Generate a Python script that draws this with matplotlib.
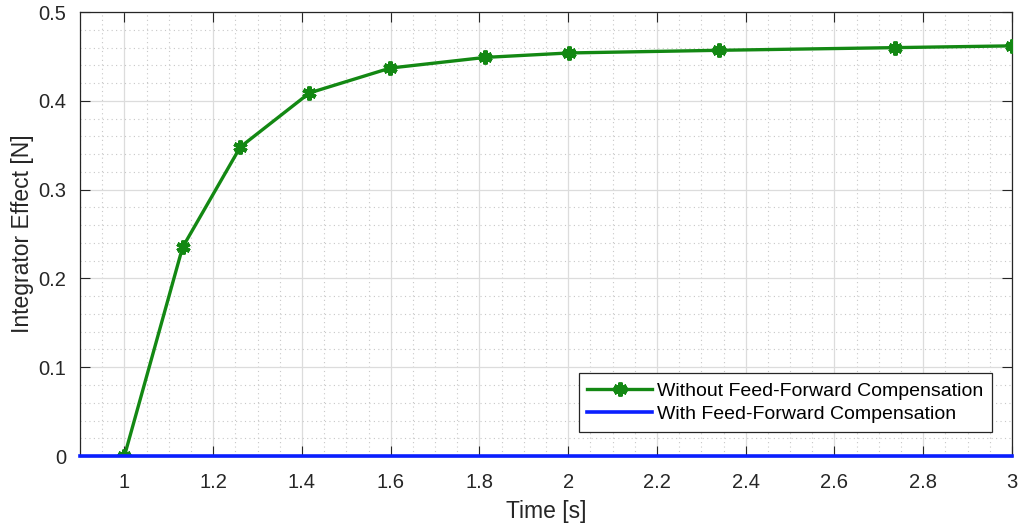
import matplotlib.pyplot as plt
from matplotlib.ticker import MultipleLocator

plt.rcParams['font.family'] = ['Liberation Sans', 'DejaVu Sans']

# Without feed-forward compensation
t_noff = [1.0, 1.131, 1.261, 1.417, 1.599, 1.813, 2.002, 2.340, 2.736, 3.0]
f_noff = [0.0, 0.235, 0.348, 0.409, 0.437, 0.449, 0.454, 0.457, 0.460, 0.462]

# With feed-forward compensation: stays at zero
t_ff = [0.9, 1.0, 1.5, 2.0, 2.5, 3.0]
f_ff = [0.0, 0.0, 0.0, 0.0, 0.0, 0.0]

xticks = [1, 1.2, 1.4, 1.6, 1.8, 2, 2.2, 2.4, 2.6, 2.8, 3]
xticklabels = ['1', '1.2', '1.4', '1.6', '1.8', '2', '2.2', '2.4', '2.6', '2.8', '3']
yticks = [0, 0.1, 0.2, 0.3, 0.4, 0.5]
yticklabels = ['0', '0.1', '0.2', '0.3', '0.4', '0.5']

fig = plt.figure(figsize=(10.21, 5.27), dpi=100)
ax = fig.add_axes([0.0784, 0.1347, 0.9128, 0.8423])

ax.plot(t_noff, f_noff, color='#138813', linewidth=2.4, marker=(6, 2, 0),
        markersize=10, markeredgewidth=3, label='Without Feed-Forward Compensation', zorder=3)
ax.plot(t_ff, f_ff, color='#0a1fff', linewidth=2.6, label='With Feed-Forward Compensation',
        clip_on=False, zorder=4)

ax.set_xlim(0.9, 3)
ax.set_ylim(0, 0.5)
ax.set_xticks(xticks)
ax.set_xticklabels(xticklabels)
ax.set_yticks(yticks)
ax.set_yticklabels(yticklabels)
ax.xaxis.set_minor_locator(MultipleLocator(0.05))
ax.yaxis.set_minor_locator(MultipleLocator(0.02))

ax.grid(True, which='major', color='#dcdcdc', linewidth=0.9)
ax.grid(True, which='minor', color='#c8c8c8', linestyle=(0, (1, 3)), linewidth=0.8)
ax.set_axisbelow(True)

ax.tick_params(which='both', direction='in', top=True, right=True, colors='#262626',
               labelsize=14.5, labelcolor='#262626')
ax.tick_params(which='major', length=7, pad=12)
ax.tick_params(axis='y', which='major', pad=10)
ax.tick_params(which='minor', length=0)
for s in ax.spines.values():
    s.set_color('#262626')
    s.set_linewidth(0.9)

ax.set_xlabel('Time [s]', fontsize=16.5, color='#262626', labelpad=6)
ax.set_ylabel('Integrator Effect [N]', fontsize=16.5, color='#262626', labelpad=3)

leg = ax.legend(loc='lower right', bbox_to_anchor=(0.979, 0.054), borderaxespad=0,
                fontsize=14, fancybox=False, framealpha=1, edgecolor='#262626',
                handlelength=3.3, borderpad=0.45, labelspacing=0.3, handletextpad=0.3)
leg.get_frame().set_linewidth(0.9)

fig.savefig('out.png', dpi=100)
